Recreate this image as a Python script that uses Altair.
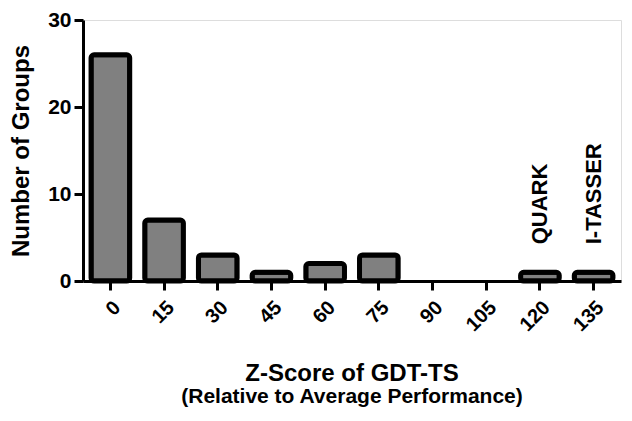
import altair as alt
import pandas as pd

bins = ["0", "15", "30", "45", "60", "75", "90", "105", "120", "135"]
counts = [26, 7, 3, 1, 2, 3, 0, 0, 1, 1]
note_bins = ["120", "135"]
note_counts = [1, 1]
note_labels = ["QUARK", "I-TASSER"]
title_lines = ["Z-Score of GDT-TS", "(Relative to Average Performance)"]
y_ticks = [0, 10, 20, 30]

FONT = "Liberation Sans"
W, H = 538, 261

df = pd.DataFrame({"bin": bins, "count": counts})
notes = pd.DataFrame({"bin": note_bins, "count": note_counts, "label": note_labels})
titles = pd.DataFrame({"line": title_lines})

xscale = alt.Scale(domain=bins, paddingInner=0.28, paddingOuter=0.15)
yscale = alt.Scale(domain=[0, 30], nice=False)

bars = alt.Chart(df).transform_filter("datum.count > 0").mark_bar(
    color="#808080", stroke="black", strokeWidth=5, cornerRadius=3
).encode(
    x=alt.X("bin:N", scale=xscale, sort=bins,
            axis=alt.Axis(title=None, labelAngle=-45, labelFontSize=20, labelFont=FONT,
                          labelFontWeight="bold", labelColor="black", domainColor="black",
                          domainWidth=3, tickColor="black", tickWidth=3, tickSize=9,
                          labelPadding=7)),
    y=alt.Y("count:Q", scale=yscale,
            axis=alt.Axis(title="Number of Groups", values=y_ticks, grid=False,
                          labelFontSize=21, labelFont=FONT, labelFontWeight="bold",
                          labelColor="black", titleFontSize=24, titleFont=FONT,
                          titleFontWeight="bold", titleColor="black", titlePadding=14,
                          domainColor="black", domainWidth=3, tickColor="black",
                          tickWidth=3, tickSize=9, labelPadding=3)),
)

ann = alt.Chart(notes).mark_text(
    angle=270, align="left", baseline="middle", dx=28, fontSize=22, font=FONT,
    fontWeight="bold", color="black"
).encode(
    x=alt.X("bin:N", scale=xscale, sort=bins),
    y=alt.Y("count:Q", scale=yscale),
    text="label:N",
)

t1 = alt.Chart(titles.iloc[[0]]).mark_text(
    fontSize=24, font=FONT, fontWeight="bold", color="black", baseline="alphabetic"
).encode(x=alt.value(W / 2), y=alt.value(361), text="line:N")

t2 = alt.Chart(titles.iloc[[1]]).mark_text(
    fontSize=21, font=FONT, fontWeight="bold", color="black", baseline="alphabetic"
).encode(x=alt.value(W / 2), y=alt.value(383), text="line:N")

chart = alt.layer(bars, ann, t1, t2).properties(
    width=W, height=H,
    autosize=alt.AutoSizeParams(type="none"),
    padding={"left": 75, "top": 12, "right": 3, "bottom": 128},
).configure_view(stroke=None).configure(background="white")

chart.save("out.html", embed_options={"renderer": "svg", "actions": False})
